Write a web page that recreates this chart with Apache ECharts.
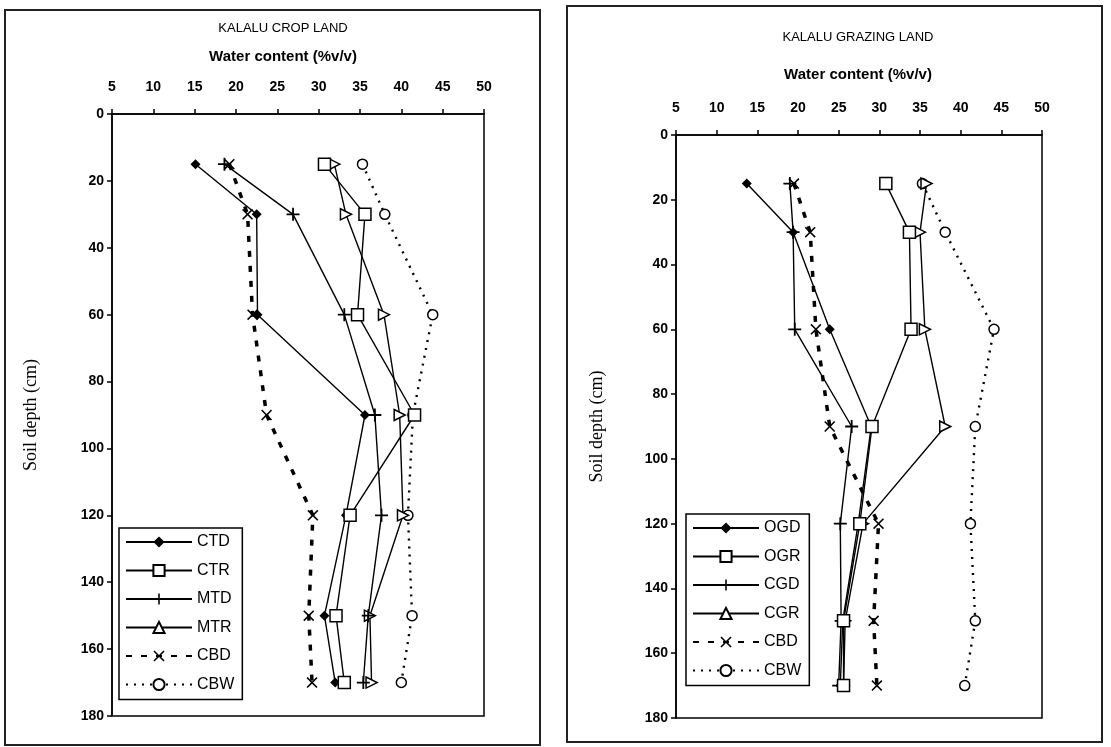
<!DOCTYPE html>
<html><head><meta charset="utf-8">
<script src="https://cdn.jsdelivr.net/npm/echarts@6/dist/echarts.min.js"></script>
<style>html,body{margin:0;padding:0;background:#fff}#c{width:1111px;height:747px}</style>
</head><body><div id="c"></div>
<script>
// ---- data ----
const depths = [15, 30, 60, 90, 120, 150, 170];
const xMin = 5, xMax = 50, xStep = 5;
const yMin = 0, yMax = 180, yStep = 20;

const cropNames = ['CTD', 'CTR', 'MTD', 'MTR', 'CBD', 'CBW'];
const CTD = [15.1, 22.5, 22.6, 35.6, 33.3, 30.7, 32.0];
const CTR = [30.7, 35.6, 34.7, 41.6, 33.8, 32.1, 33.1];
const MTD = [18.6, 26.9, 33.1, 36.8, 37.6, 36.0, 35.4];
const MTR = [31.9, 33.3, 37.9, 39.8, 40.2, 36.2, 36.4];
const CBD_crop = [19.2, 21.4, 22.0, 23.7, 29.3, 28.8, 29.2];
const CBW_crop = [35.3, 38.0, 43.8, 41.4, 40.8, 41.3, 40.0];

const grazNames = ['OGD', 'OGR', 'CGD', 'CGR', 'CBD', 'CBW'];
const OGD = [13.7, 19.4, 23.9, 29.0, 27.4, 25.5, 25.2];
const OGR = [30.8, 33.7, 33.9, 29.1, 27.6, 25.6, 25.6];
const CGD = [19.0, 19.4, 19.6, 26.6, 25.2, 25.3, 25.0];
const CGR = [35.8, 35.0, 35.6, 38.1, 28.0, 25.8, 25.6];
const CBD_graz = [19.5, 21.5, 22.2, 23.9, 29.9, 29.3, 29.7];
const CBW_graz = [35.3, 38.1, 44.1, 41.8, 41.2, 41.8, 40.5];

const titleCrop = 'KALALU CROP LAND';
const titleGraz = 'KALALU GRAZING LAND';
const xTitle = 'Water content (%v/v)';
const yTitle = 'Soil depth (cm)';

// ---- styles ----
const NARROW = "'Liberation Sans Narrow','Arial Narrow','Liberation Sans',Arial,sans-serif";
const SANS = "'Liberation Sans',Arial,sans-serif";
const SERIF = "'Liberation Serif','Times New Roman',serif";
const PLUS = 'path://M4.3,0H5.7V4.3H10V5.7H5.7V10H4.3V5.7H0V4.3H4.3Z';
const CROSS = 'path://M1,0L5,4L9,0L10,1L6,5L10,9L9,10L5,6L1,10L0,9L4,5L0,1Z';

const kinds = [
  {symbol: 'diamond', size: 10, fill: '#000', z: 6, line: {type: 'solid', width: 1.4}},
  {symbol: 'rect', size: 12, fill: '#fff', z: 7, line: {type: 'solid', width: 1.4}},
  {symbol: PLUS, size: 13, fill: '#000', z: 5, line: {type: 'solid', width: 1.4}},
  {symbol: 'triangle', size: 11, fill: '#fff', z: 4, rotate: -90, line: {type: 'solid', width: 1.4}},
  {symbol: CROSS, size: 11, fill: '#000', z: 3, line: {type: [6, 9], width: 3.5}},
  {symbol: 'circle', size: 10, fill: '#fff', z: 2, line: {type: [2, 6], width: 2.4}}
];

function mk(name, vals, k, idx) {
  const kd = kinds[k];
  const hollow = kd.fill === '#fff';
  return {
    name: name, type: 'line', xAxisIndex: idx, yAxisIndex: idx,
    data: vals.map((v, i) => [v, depths[i]]),
    symbol: kd.symbol, symbolSize: kd.size, symbolRotate: kd.rotate || 0,
    showAllSymbol: true,
    lineStyle: {color: '#000', width: kd.line.width, type: kd.line.type},
    itemStyle: hollow ? {color: '#fff', borderColor: '#000', borderWidth: 1.5}
                      : {color: '#000', borderWidth: 0},
    emphasis: {disabled: true},
    animation: false, z: kd.z
  };
}

const cropVals = [CTD, CTR, MTD, MTR, CBD_crop, CBW_crop];
const grazVals = [OGD, OGR, CGD, CGR, CBD_graz, CBW_graz];
const series = [];
cropVals.forEach((v, k) => series.push(mk(cropNames[k], v, k, 0)));
grazVals.forEach((v, k) => series.push(mk(grazNames[k], v, k, 1)));

function xAx(idx) {
  return {
    gridIndex: idx, type: 'value', position: 'top', min: xMin, max: xMax, interval: xStep,
    axisLine: {show: true, onZero: false, lineStyle: {color: '#000', width: 1.5}},
    axisTick: {show: true, length: 5, lineStyle: {color: '#000', width: 1.5}},
    axisLabel: {color: '#000', fontFamily: SANS, fontWeight: 'bold', fontSize: 14, margin: 20},
    splitLine: {show: false}
  };
}
function yAx(idx, gap) {
  return {
    gridIndex: idx, type: 'value', inverse: true, min: yMin, max: yMax, interval: yStep,
    axisLine: {show: true, onZero: false, lineStyle: {color: '#000', width: 1.5}},
    axisTick: {show: true, length: 5, lineStyle: {color: '#000', width: 1.5}},
    axisLabel: {color: '#000', fontFamily: SANS, fontWeight: 'bold', fontSize: 14, margin: 8},
    splitLine: {show: false},
    name: yTitle, nameLocation: 'middle', nameGap: gap, nameRotate: 90,
    nameTextStyle: {color: '#000', fontFamily: SERIF, fontSize: 18}
  };
}
function leg(names, left, top) {
  return {
    data: names.map(n => ({name: n})), orient: 'vertical', left: left, top: top,
    selectedMode: false, symbolRotate: 0,
    borderColor: '#000', borderWidth: 1.5, padding: [6, 8, 7, 6],
    itemWidth: 66, itemHeight: 14, itemGap: 12.5,
    textStyle: {color: '#000', fontFamily: NARROW, fontSize: 16}
  };
}
function txt(x, y, s, font) {
  return {type: 'text', x: x, y: y, silent: true,
    style: {text: s, font: font, fill: '#000', align: 'center', verticalAlign: 'middle'}};
}

const chart = echarts.init(document.getElementById('c'), null, {renderer: 'canvas'});
chart.setOption({
  backgroundColor: '#fff',
  animation: false,
  grid: [
    {left: 112, top: 114, width: 372, height: 602, show: true, borderColor: '#000', borderWidth: 1.5, backgroundColor: 'transparent'},
    {left: 676, top: 135, width: 366, height: 583, show: true, borderColor: '#000', borderWidth: 1.5, backgroundColor: 'transparent'}
  ],
  xAxis: [xAx(0), xAx(1)],
  yAxis: [yAx(0, 72), yAx(1, 70)],
  legend: [leg(cropNames, 119, 528), leg(grazNames, 686, 514)],
  graphic: [
    {type: 'rect', shape: {x: 5, y: 10, width: 535, height: 735}, style: {fill: 'none', stroke: '#222', lineWidth: 2}, silent: true},
    {type: 'rect', shape: {x: 567, y: 6, width: 535, height: 736}, style: {fill: 'none', stroke: '#222', lineWidth: 2}, silent: true},
    txt(283, 28, titleCrop, '13px ' + NARROW),
    txt(283, 57, xTitle, 'bold 15px ' + NARROW),
    txt(858, 37, titleGraz, '13px ' + NARROW),
    txt(858, 75, xTitle, 'bold 15px ' + NARROW)
  ],
  series: series
});
</script>
</body></html>
